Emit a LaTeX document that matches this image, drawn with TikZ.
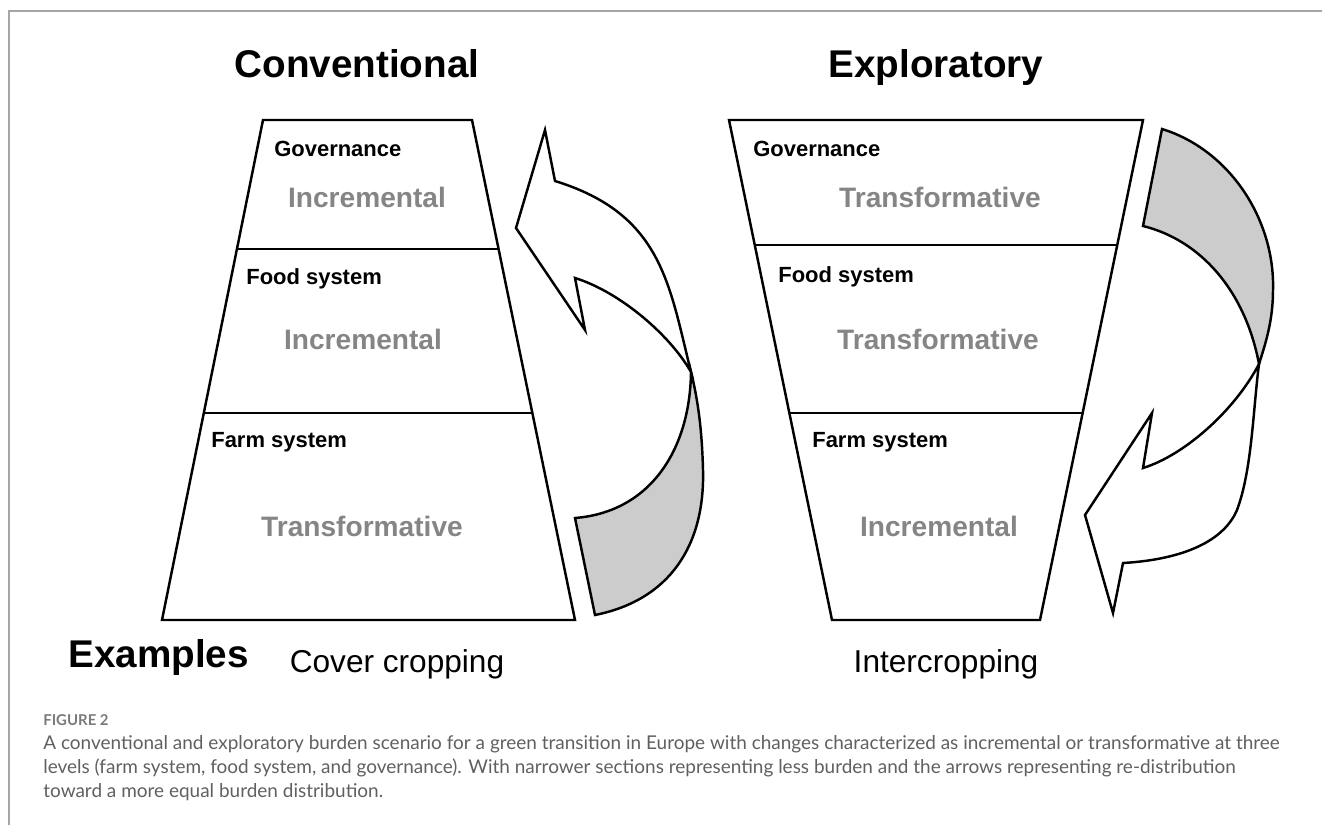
\documentclass[tikz,border=0pt]{standalone}
\usepackage{fontspec}
\setmainfont{Liberation Sans}
\newfontfamily\capfont{Lato}
\usetikzlibrary{calc}
\definecolor{fillgray}{HTML}{CCCCCC}
\definecolor{labelgray}{HTML}{858585}
\definecolor{framegray}{HTML}{A6A6A6}
\definecolor{captext}{HTML}{606060}
\definecolor{capfig}{HTML}{7A7A7A}
\begin{document}
\begin{tikzpicture}[x=0.02cm,y=-0.02cm,
  outline/.style={draw=black,line width=1.4pt,line join=miter},
  band/.style={outline,fill=fillgray},
  bandwhite/.style={outline,fill=white},
  title/.style={font=\fontsize{22}{26}\selectfont\bfseries,anchor=base,inner sep=0pt},
  level/.style={font=\fontsize{12.5}{15}\selectfont\bfseries,anchor=base west,inner sep=0pt},
  kind/.style={font=\fontsize{16}{19}\selectfont\bfseries,text=labelgray,anchor=base,inner sep=0pt},
  example/.style={font=\fontsize{18}{21}\selectfont,anchor=base,inner sep=0pt},
  capline/.style={font=\capfont\fontsize{10.8}{13}\selectfont,text=captext,anchor=base west,inner sep=0pt},
]
\useasboundingbox (0,0) rectangle (1322,825);
% page frame
\draw[framegray,line width=0.9pt] (9,825) -- (9,11) -- (1322,11);

% titles
\node[title] (tconv) at (357,77) {Conventional};
\node[title] (texpl) at (936,77) {Exploratory};

% conventional trapezoid
\coordinate (lTL) at (263,120);
\coordinate (lTR) at (472,120);
\coordinate (lBR) at (575,620);
\coordinate (lBL) at (162,620);
\draw[outline] (lTL) -- (lTR) -- (lBR) -- (lBL) -- cycle;
\draw[outline] ($(lTL)!0.258!(lBL)$) -- ($(lTR)!0.258!(lBR)$);
\draw[outline] ($(lTL)!0.586!(lBL)$) -- ($(lTR)!0.586!(lBR)$);

% exploratory trapezoid
\coordinate (rTL) at (729,120);
\coordinate (rTR) at (1143,120);
\coordinate (rBR) at (1040,620);
\coordinate (rBL) at (832,620);
\draw[outline] (rTL) -- (rTR) -- (rBR) -- (rBL) -- cycle;
\draw[outline] ($(rTL)!0.25!(rBL)$) -- ($(rTR)!0.25!(rBR)$);
\draw[outline] ($(rTL)!0.586!(rBL)$) -- ($(rTR)!0.586!(rBR)$);

% level labels
\node[level] (lgov) at (274,156) {Governance};
\node[level] (lfood) at (246,284) {Food system};
\node[level] (lfarm) at (211,447) {Farm system};
\node[level] (rgov) at (753,156) {Governance};
\node[level] (rfood) at (778,282) {Food system};
\node[level] (rfarm) at (812,447) {Farm system};

% kind of change
\node[kind] (lgovk) at (367,207) {Incremental};
\node[kind] (lfoodk) at (363,349) {Incremental};
\node[kind] (lfarmk) at (362,536) {Transformative};
\node[kind] (rgovk) at (940,207) {Transformative};
\node[kind] (rfoodk) at (938,349) {Transformative};
\node[kind] (rfarmk) at (939,536) {Incremental};

% conventional re-distribution arrow (upwards)
\coordinate (lx) at (691,372);
\filldraw[band] (lx) .. controls (690,450) and (650,512) .. (575,518)
  -- (595,615) .. controls (670,600) and (705,545) .. (703,470)
  .. controls (702,430) and (698,400) .. (lx) -- cycle;
\filldraw[bandwhite] (lx) .. controls (669,284) and (662,214) .. (555,181)
  -- (545,130) -- (516,228) -- (585,330) -- (575,278)
  .. controls (620,292) and (670,335) .. (lx) -- cycle;

% exploratory re-distribution arrow (downwards)
\coordinate (rx) at (1259,364);
\filldraw[band] (1162,129) .. controls (1230,150) and (1275,220) .. (1273,290)
  .. controls (1273,320) and (1266,342) .. (rx)
  .. controls (1245,290) and (1200,240) .. (1143,226) -- cycle;
\filldraw[bandwhite] (rx) .. controls (1253,410) and (1252,470) .. (1237,510)
  .. controls (1222,545) and (1175,560) .. (1123,563)
  -- (1113,613) -- (1085,515) -- (1152,413) -- (1143,468)
  .. controls (1185,455) and (1235,410) .. (rx) -- cycle;

% examples
\node[title,anchor=base west] (exhead) at (68,667) {Examples};
\node[example] (exconv) at (397,672) {Cover cropping};
\node[example] (expl) at (946,672) {Intercropping};

% caption
\node[capline,font=\capfont\bfseries\fontsize{8.5}{10}\selectfont,text=capfig] (figno) at (43,725) {FIGURE 2};
\node[capline] (cap1) at (43,749) {A conventional and exploratory burden scenario for a green transition in Europe with changes characterized as incremental or transformative at three};
\node[capline] (cap2) at (43,773) {levels (farm system, food system, and governance). With narrower sections representing less burden and the arrows representing re-distribution};
\node[capline] (cap3) at (43,797) {toward a more equal burden distribution.};
\end{tikzpicture}
\end{document}
